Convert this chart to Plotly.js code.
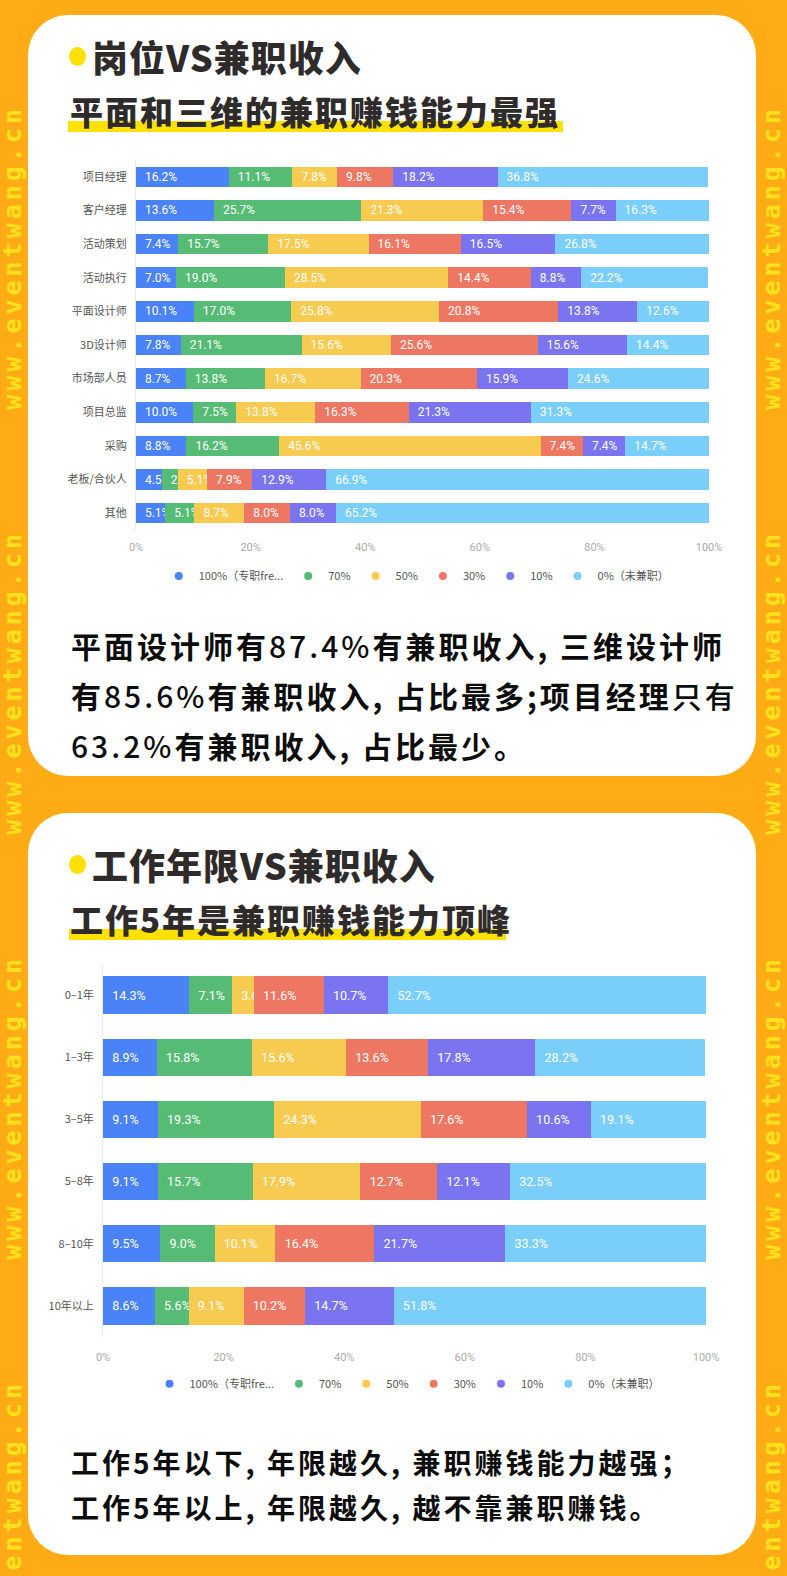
<!DOCTYPE html>
<html><head><meta charset="utf-8">
<script src="https://cdn.plot.ly/plotly-3.0.1.min.js"></script>
<style>
html,body{margin:0;padding:0;}
body{width:787px;height:1576px;background:#FFAB16;position:relative;overflow:hidden;font-family:"Noto Sans CJK SC",sans-serif;}
.card{position:absolute;left:28px;width:728px;background:#fff;border-radius:40px;}
.dot{position:absolute;width:17px;height:19px;border-radius:50%;background:#FFE100;}
.title{position:absolute;left:92px;font-size:36px;font-weight:900;color:#2f2b2b;line-height:40px;white-space:nowrap;letter-spacing:1px;}
.hl{position:absolute;background:#FFE100;}
.sub{position:absolute;left:70px;font-size:33px;font-weight:900;color:#2f2b2b;line-height:38px;white-space:nowrap;letter-spacing:2px;}
.para{position:absolute;left:71px;font-weight:700;color:#0d0d0d;white-space:nowrap;}
.para .n{font-weight:500;}
.wm{position:absolute;writing-mode:vertical-rl;transform:rotate(180deg);font-family:"DejaVu Sans Mono",monospace;font-weight:bold;font-size:25px;color:#FFE21C;letter-spacing:4px;line-height:26px;width:26px;white-space:nowrap;}
.chart{position:absolute;left:28px;width:727px;}
</style></head>
<body>
<div class="wm" style="left:0;top:105px;">www.eventwang.cn</div>
<div class="wm" style="left:0;top:530px;">www.eventwang.cn</div>
<div class="wm" style="left:0;top:955px;">www.eventwang.cn</div>
<div class="wm" style="left:0;top:1380px;">www.eventwang.cn</div>
<div class="wm" style="left:759px;top:105px;">www.eventwang.cn</div>
<div class="wm" style="left:759px;top:530px;">www.eventwang.cn</div>
<div class="wm" style="left:759px;top:955px;">www.eventwang.cn</div>
<div class="wm" style="left:759px;top:1380px;">www.eventwang.cn</div>

<div class="card" style="top:15px;height:761px;"></div>
<div class="card" style="top:813px;height:742px;"></div>

<div class="dot" style="left:69px;top:47px;"></div>
<div class="title" style="top:36px;">岗位VS兼职收入</div>
<div class="hl" style="left:68px;top:121px;width:495px;height:11px;"></div>
<div class="sub" style="top:92px;">平面和三维的兼职赚钱能力最强</div>

<div id="chart1" class="chart" style="top:150px;height:450px;"></div>

<div class="para" style="top:620px;font-size:30px;line-height:50px;letter-spacing:3px;">
平面设计师有<span class="n">87.4%</span>有兼职收入, 三维设计师<br>
有<span class="n">85.6%</span>有兼职收入, 占比最多;项目经理<span class="n">只有</span><br>
<span class="n">63.2%</span>有兼职收入, 占比最少。
</div>

<div class="dot" style="left:69px;top:855px;"></div>
<div class="title" style="top:844px;">工作年限VS兼职收入</div>
<div class="hl" style="left:69px;top:929px;width:437px;height:11px;"></div>
<div class="sub" style="top:900px;">工作5年是兼职赚钱能力顶峰</div>

<div id="chart2" class="chart" style="top:950px;height:460px;"></div>

<div class="para" style="top:1440px;font-size:28px;line-height:45px;letter-spacing:3px;">
工作5年以下, 年限越久, 兼职赚钱能力越强；<br>
工作5年以上, 年限越久, 越不靠兼职赚钱。
</div>

<script>
// ---- data ----
const seriesNames = ['100%（专职fre...', '70%', '50%', '30%', '10%', '0%（未兼职）'];
const seriesColors = ['#4A82F7', '#56BB75', '#F7CA50', '#EE7763', '#7A74F1', '#7ACEFA'];

const roles = ['项目经理','客户经理','活动策划','活动执行','平面设计师','3D设计师','市场部人员','项目总监','采购','老板/合伙人','其他'];
const role100 = [16.2, 13.6, 7.4, 7.0, 10.1, 7.8, 8.7, 10.0, 8.8, 4.5, 5.1];
const role70  = [11.1, 25.7, 15.7, 19.0, 17.0, 21.1, 13.8, 7.5, 16.2, 2.8, 5.1];
const role50  = [7.8, 21.3, 17.5, 28.5, 25.8, 15.6, 16.7, 13.8, 45.6, 5.1, 8.7];
const role30  = [9.8, 15.4, 16.1, 14.4, 20.8, 25.6, 20.3, 16.3, 7.4, 7.9, 8.0];
const role10  = [18.2, 7.7, 16.5, 8.8, 13.8, 15.6, 15.9, 21.3, 7.4, 12.9, 8.0];
const role0   = [36.8, 16.3, 26.8, 22.2, 12.6, 14.4, 24.6, 31.3, 14.7, 66.9, 65.2];

const years = ['0–1年','1–3年','3–5年','5–8年','8–10年','10年以上'];
const yr100 = [14.3, 8.9, 9.1, 9.1, 9.5, 8.6];
const yr70  = [7.1, 15.8, 19.3, 15.7, 9.0, 5.6];
const yr50  = [3.6, 15.6, 24.3, 17.9, 10.1, 9.1];
const yr30  = [11.6, 13.6, 17.6, 12.7, 16.4, 10.2];
const yr10  = [10.7, 17.8, 10.6, 12.1, 21.7, 14.7];
const yr0   = [52.7, 28.2, 19.1, 32.5, 33.3, 51.8];

const tickVals = [0, 20, 40, 60, 80, 100];

function buildTraces(cats, seriesList, textSize) {
  const traces = [];
  seriesList.forEach((vals, i) => {
    traces.push({
      type: 'bar', orientation: 'h', x: vals, y: cats, name: seriesNames[i],
      marker: {color: seriesColors[i], line: {width: 0}},
      texttemplate: '\u00a0\u00a0%{x:.1f}%', textposition: 'inside', insidetextanchor: 'start',
      textangle: 0, constraintext: 'none',
      textfont: {color: '#ffffff', size: textSize, family: 'Roboto, "Noto Sans CJK SC", sans-serif'},
      showlegend: false, hoverinfo: 'skip'
    });
  });
  seriesNames.forEach((n, i) => {
    traces.push({
      type: 'scatter', mode: 'markers', x: [null], y: [null], name: n,
      marker: {color: seriesColors[i], size: 8, symbol: 'circle'},
      showlegend: true, hoverinfo: 'skip'
    });
  });
  return traces;
}

function buildLayout(cats, m, gap, legendY, legendX, standoff) {
  return {
    barmode: 'stack', bargap: gap,
    margin: m,
    paper_bgcolor: 'rgba(0,0,0,0)', plot_bgcolor: 'rgba(0,0,0,0)',
    font: {family: '"Noto Sans CJK SC", sans-serif', color: '#555', size: 11},
    xaxis: {range: [0, 100], tickvals: tickVals, ticktext: tickVals.map(v => v + '%'),
            showgrid: false, zeroline: false, showline: false, ticks: '', ticklabelstandoff: standoff,
            tickfont: {size: 11, color: '#aaaaaa', family: 'Roboto, sans-serif'}, fixedrange: true},
    yaxis: {type: 'category', categoryarray: cats, categoryorder: 'array', autorange: 'reversed',
            showgrid: false, zeroline: false, showline: true, linecolor: '#ececec', linewidth: 1,
            ticks: '', ticklabelstandoff: 6, tickfont: {size: 11, color: '#555'}, fixedrange: true},
    showlegend: true,
    legend: {orientation: 'h', traceorder: 'normal', x: legendX, xanchor: 'center', y: legendY, yanchor: 'middle',
             font: {size: 11, color: '#555'}, itemwidth: 30, bgcolor: 'rgba(0,0,0,0)'}
  };
}

Plotly.newPlot('chart1',
  buildTraces(roles, [role100, role70, role50, role30, role10, role0], 12),
  buildLayout(roles, {l: 108, r: 46, t: 10, b: 63}, 0.39, -0.124, 0.49, 9),
  {staticPlot: true, displayModeBar: false});

Plotly.newPlot('chart2',
  buildTraces(years, [yr100, yr70, yr50, yr30, yr10, yr0], 12.5),
  buildLayout(years, {l: 75, r: 49, t: 14, b: 62}, 0.4, -0.125, 0.505, 12),
  {staticPlot: true, displayModeBar: false});
</script>
</body></html>
